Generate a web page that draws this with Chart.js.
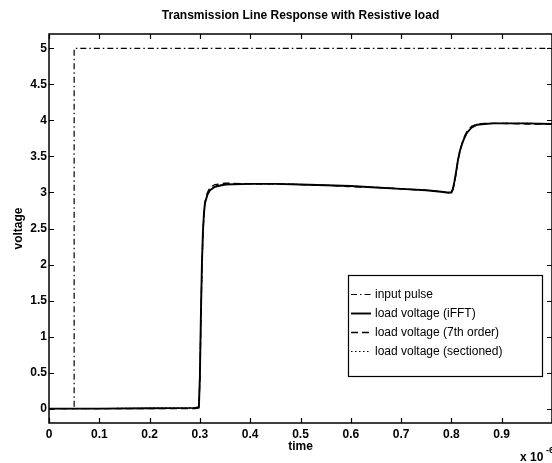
<!DOCTYPE html>
<html><head><meta charset="utf-8">
<script src="https://cdn.jsdelivr.net/npm/chart.js@4/dist/chart.umd.min.js"></script>
<style>
html,body{margin:0;padding:0;background:#fff;overflow:hidden;width:552px;height:463px}
#wrap{width:556px;height:463px;position:relative}
</style></head>
<body><div id="wrap"><canvas id="c" width="556" height="463"></canvas></div>
<script>
// ---- text ----
const chartTitle = "Transmission Line Response with Resistive load";
const xAxisLabel = "time";
const yAxisLabel = "voltage";
const xExponentBase = "x 10";
const xExponentPower = "-6";
const seriesNames = ["input pulse", "load voltage (iFFT)", "load voltage (7th order)", "load voltage (sectioned)"];

// ---- data (time in units of 1e-6 s, voltage in V) ----
const pulseTime    = [0, 0.05, 0.05, 1.0];
const pulseVoltage = [0, 0, 5, 5];

const loadTime = [0, 0.1, 0.2, 0.29, 0.298, 0.300, 0.302, 0.304, 0.306, 0.308,
                  0.31, 0.315, 0.32, 0.33, 0.35, 0.4, 0.45, 0.5, 0.55, 0.6,
                  0.65, 0.7, 0.75, 0.78, 0.79, 0.797, 0.80, 0.803, 0.806, 0.809,
                  0.813, 0.817, 0.821, 0.826, 0.831, 0.84, 0.851, 0.865, 0.883, 0.9,
                  0.95, 1.0];
const loadIFFT = [0, 0, 0.005, 0.01, 0.02, 0.45, 1.3, 2.0, 2.45, 2.7,
                  2.85, 2.97, 3.03, 3.08, 3.11, 3.12, 3.12, 3.11, 3.10, 3.09,
                  3.07, 3.05, 3.03, 3.01, 3.0, 3.0, 3.0, 3.05, 3.15, 3.27,
                  3.45, 3.58, 3.67, 3.76, 3.83, 3.90, 3.94, 3.95, 3.96, 3.96,
                  3.96, 3.95];
const load7th  = [0, 0, 0.0, 0.0, 0.01, 0.40, 1.25, 1.95, 2.42, 2.70,
                  2.87, 3.00, 3.07, 3.11, 3.13, 3.12, 3.12, 3.11, 3.10, 3.08,
                  3.07, 3.05, 3.03, 3.01, 3.0, 2.99, 3.0, 3.04, 3.13, 3.25,
                  3.44, 3.58, 3.68, 3.78, 3.85, 3.92, 3.95, 3.96, 3.96, 3.96,
                  3.95, 3.95];
const loadSect = [0, 0, 0.005, 0.01, 0.02, 0.43, 1.28, 1.98, 2.44, 2.70,
                  2.86, 2.98, 3.04, 3.09, 3.11, 3.12, 3.12, 3.11, 3.10, 3.09,
                  3.07, 3.05, 3.03, 3.01, 3.0, 3.0, 3.0, 3.05, 3.14, 3.26,
                  3.45, 3.58, 3.67, 3.76, 3.83, 3.90, 3.94, 3.95, 3.96, 3.96,
                  3.96, 3.95];

// ---- ticks ----
const xTickValues = [0, 0.1, 0.2, 0.3, 0.4, 0.5, 0.6, 0.7, 0.8, 0.9, 1.0];
const xTickLabels = ["0", "0.1", "0.2", "0.3", "0.4", "0.5", "0.6", "0.7", "0.8", "0.9", ""];
const yTickValues = [0, 0.5, 1, 1.5, 2, 2.5, 3, 3.5, 4, 4.5, 5];
const yTickLabels = ["0", "0.5", "1", "1.5", "2", "2.5", "3", "3.5", "4", "4.5", "5"];

const toPts = (xs, ys) => xs.map((x, i) => ({x: x, y: ys[i]}));

const FONT = "'Liberation Sans', Arial, Helvetica, sans-serif";

const frameAndLegend = {
  id: 'frameAndLegend',
  afterDatasetsDraw(chart) {
    const {ctx, chartArea: a, scales} = chart;
    const xs = scales.x, ys = scales.y;
    ctx.save();
    ctx.strokeStyle = '#000';
    ctx.lineWidth = 1.5;
    ctx.setLineDash([]);
    ctx.beginPath();
    ctx.rect(a.left, a.top, a.right - a.left, a.bottom - a.top);
    ctx.stroke();
    ctx.lineWidth = 1.2;
    const tl = 5;
    xTickValues.forEach(v => {
      const px = Math.round(xs.getPixelForValue(v)) + 0.5;
      ctx.beginPath();
      ctx.moveTo(px, a.bottom); ctx.lineTo(px, a.bottom - tl);
      ctx.moveTo(px, a.top); ctx.lineTo(px, a.top + tl);
      ctx.stroke();
    });
    yTickValues.forEach(v => {
      const py = Math.round(ys.getPixelForValue(v)) + 0.5;
      ctx.beginPath();
      ctx.moveTo(a.left, py); ctx.lineTo(a.left + tl, py);
      ctx.moveTo(a.right, py); ctx.lineTo(a.right - tl, py);
      ctx.stroke();
    });
    ctx.restore();
  },
  afterDraw(chart) {
    const {ctx} = chart;
    ctx.save();
    // legend box
    const bx = 348, by = 275, bw = 194, bh = 101;
    ctx.fillStyle = '#fff';
    ctx.fillRect(bx, by, bw, bh);
    ctx.strokeStyle = '#000';
    ctx.lineWidth = 1.2;
    ctx.setLineDash([]);
    ctx.strokeRect(bx + 0.5, by + 0.5, bw, bh);
    const rowY = [294.5, 313.5, 332.5, 351.5];
    ctx.font = '12px ' + FONT;
    ctx.fillStyle = '#000';
    ctx.textBaseline = 'middle';
    ctx.textAlign = 'left';
    chart.data.datasets.forEach((ds, i) => {
      ctx.beginPath();
      ctx.setLineDash(ds.borderDash || []);
      ctx.lineWidth = ds.borderWidth;
      ctx.moveTo(bx + 3, rowY[i]); ctx.lineTo(bx + 23, rowY[i]);
      ctx.stroke();
      ctx.setLineDash([]);
      ctx.fillText(ds.label, bx + 27, rowY[i]);
    });
    // exponent label
    ctx.font = 'bold 12px ' + FONT;
    ctx.fillText(xExponentBase, 520, 458);
    ctx.font = 'bold 9px ' + FONT;
    ctx.fillText(xExponentPower, 546, 451);
    ctx.restore();
  }
};

new Chart(document.getElementById('c'), {
  type: 'line',
  data: {
    datasets: [
      {label: seriesNames[0], data: toPts(pulseTime, pulseVoltage), borderColor: '#000', borderWidth: 1.2, borderDash: [6, 3, 1.5, 3], pointRadius: 0, tension: 0, fill: false},
      {label: seriesNames[1], data: toPts(loadTime, loadIFFT), borderColor: '#000', borderWidth: 1.9, borderDash: [], pointRadius: 0, tension: 0, fill: false},
      {label: seriesNames[2], data: toPts(loadTime, load7th), borderColor: '#000', borderWidth: 1.3, borderDash: [7, 4], pointRadius: 0, tension: 0, fill: false},
      {label: seriesNames[3], data: toPts(loadTime, loadSect), borderColor: '#000', borderWidth: 1.2, borderDash: [1.5, 2.5], pointRadius: 0, tension: 0, fill: false}
    ]
  },
  options: {
    responsive: false,
    animation: false,
    devicePixelRatio: 1,
    layout: {padding: {top: 0, right: 3, left: 0, bottom: 0}},
    plugins: {
      legend: {display: false},
      tooltip: {enabled: false},
      title: {
        display: true, text: chartTitle, fullSize: false,
        color: '#000', font: {family: FONT, size: 12, weight: 'bold'},
        padding: {top: 8.8, bottom: 10.8}
      }
    },
    scales: {
      x: {
        type: 'linear', min: 0, max: 1.0,
        afterBuildTicks: s => { s.ticks = xTickValues.map(v => ({value: v})); },
        afterFit: s => { s.height = 40; },
        grid: {display: false, drawTicks: false},
        border: {display: false},
        ticks: {
          autoSkip: false, maxRotation: 0, padding: 4, color: '#000',
          font: {family: FONT, size: 12, weight: 'bold'},
          callback: (v, i) => xTickLabels[i]
        },
        title: {display: true, text: xAxisLabel, color: '#000', font: {family: FONT, size: 12, weight: 'bold'}, padding: {top: 0, bottom: 9}}
      },
      y: {
        type: 'linear', min: -0.2, max: 5.2,
        afterBuildTicks: s => { s.ticks = yTickValues.map(v => ({value: v})); },
        afterFit: s => { s.width = 49; },
        grid: {display: false, drawTicks: false},
        border: {display: false},
        ticks: {
          autoSkip: false, padding: 2, color: '#000',
          font: {family: FONT, size: 12, weight: 'bold'},
          callback: (v, i) => yTickLabels[i]
        },
        title: {display: true, text: yAxisLabel, color: '#000', font: {family: FONT, size: 12, weight: 'bold'}, padding: {top: 11, bottom: 0}}
      }
    }
  },
  plugins: [frameAndLegend]
});
</script>
</body></html>
